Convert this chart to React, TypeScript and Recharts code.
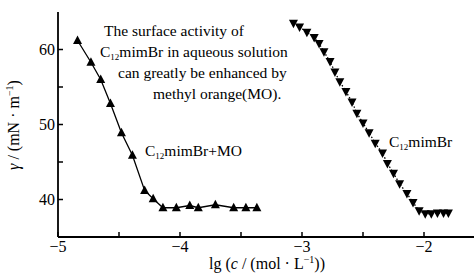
import { LineChart, Line, XAxis, YAxis } from 'recharts';

// C12mimBr + MO (filled up-triangles, solid line)
const moX = [-4.84, -4.73, -4.65, -4.57, -4.48, -4.39, -4.29, -4.22, -4.14, -4.03, -3.92, -3.85, -3.71, -3.56, -3.46, -3.37];
const moY = [61.2, 58.3, 56.0, 52.8, 48.9, 45.9, 41.2, 40.1, 38.9, 38.9, 39.2, 38.9, 39.3, 38.9, 38.9, 38.9];

// C12mimBr alone (filled down-triangles, dotted line)
const ilX = [-3.07, -3.02, -2.96, -2.9, -2.86, -2.82, -2.77, -2.73, -2.69, -2.64, -2.59, -2.55, -2.5, -2.45, -2.4, -2.34, -2.3, -2.25, -2.2, -2.14, -2.09, -2.04, -1.99, -1.94, -1.89, -1.84, -1.8];
const ilY = [63.5, 63.0, 62.3, 61.6, 60.8, 59.7, 58.4, 57.0, 55.7, 54.4, 53.0, 51.5, 50.2, 48.9, 47.5, 46.2, 44.8, 43.5, 42.1, 40.8, 39.6, 38.5, 38.1, 38.1, 38.2, 38.2, 38.2];

const xTicks = [-5, -4.5, -4, -3.5, -3, -2.5, -2, -1.5];
const yTicks = [35, 40, 45, 50, 55, 60, 65];
const xLabels = ['−5', '−4', '−3', '−2'];
const yLabels = ['40', '50', '60'];

const moData = moX.map((x, i) => ({ x, y: moY[i] }));
const ilData = ilX.map((x, i) => ({ x, y: ilY[i] }));

const FONT = "'Liberation Serif', 'DejaVu Serif', serif";
const txt = { fontFamily: FONT };

const UpTri = (p: any) => {
  const { cx, cy } = p;
  if (cx == null || cy == null) return <g key={p.index} />;
  return <polygon key={p.index} points={`${cx},${cy - 5} ${cx - 4.5},${cy + 3.5} ${cx + 4.5},${cy + 3.5}`} fill="#000" />;
};

const DownTri = (p: any) => {
  const { cx, cy } = p;
  if (cx == null || cy == null) return <g key={p.index} />;
  return <polygon key={p.index} points={`${cx},${cy + 5} ${cx - 4.5},${cy - 3.5} ${cx + 4.5},${cy - 3.5}`} fill="#000" />;
};

const XTick = (p: any) => {
  const { x, y, payload } = p;
  const v = payload.value;
  const i = [-5, -4, -3, -2].indexOf(v);
  return (
    <g>
      <line x1={x} y1={y} x2={x} y2={y - 5} stroke="#000" strokeWidth={1.5} />
      {i >= 0 && (
        <text x={x} y={y + 15} textAnchor="middle" fontSize={16} style={txt} fill="#000">
          {xLabels[i]}
        </text>
      )}
    </g>
  );
};

const YTick = (p: any) => {
  const { x, y, payload } = p;
  const v = payload.value;
  const idx = [40, 50, 60].indexOf(v);
  if (v === 35 || v === 65) return <g />;
  return (
    <g>
      <line x1={x} y1={y} x2={x + 5} y2={y} stroke="#000" strokeWidth={1.5} />
      {idx >= 0 && (
        <text x={x - 3} y={y + 5} textAnchor="end" fontSize={16} style={txt} fill="#000">
          {yLabels[idx]}
        </text>
      )}
    </g>
  );
};

export default function App() {
  return (
    <div style={{ position: 'absolute', left: 0, top: 0, width: 474, height: 273, overflow: 'hidden', background: '#fff' }}>
      <LineChart width={490} height={273} margin={{ top: 12, right: 5, left: 0, bottom: 0 }}>
        <XAxis
          xAxisId="top"
          orientation="top"
          type="number"
          dataKey="x"
          domain={[-5, -1.5]}
          height={0}
          tick={false}
          tickLine={false}
          axisLine={{ stroke: '#000', strokeWidth: 1.8 }}
        />
        <XAxis
          type="number"
          dataKey="x"
          domain={[-5, -1.5]}
          ticks={xTicks}
          interval={0}
          height={36}
          tickSize={0}
          tickMargin={0}
          tickLine={false}
          tick={<XTick />}
          axisLine={{ stroke: '#000', strokeWidth: 1.8 }}
        />
        <YAxis
          type="number"
          domain={[35, 65]}
          ticks={yTicks}
          interval={0}
          width={58}
          tickSize={0}
          tickMargin={0}
          tickLine={false}
          tick={<YTick />}
          axisLine={{ stroke: '#000', strokeWidth: 1.8 }}
        />
        <Line
          data={moData}
          dataKey="y"
          type="linear"
          stroke="#000"
          strokeWidth={1.3}
          dot={UpTri}
          activeDot={false}
          isAnimationActive={false}
        />
        <Line
          data={ilData}
          dataKey="y"
          type="linear"
          stroke="#000"
          strokeWidth={1.3}
          strokeDasharray="1.5 2"
          dot={DownTri}
          activeDot={false}
          isAnimationActive={false}
        />
      </LineChart>
      <svg width={474} height={273} style={{ position: 'absolute', left: 0, top: 0, pointerEvents: 'none' }}>
        <g style={txt} fill="#000" fontSize={15.5}>
          <text x={104} y={36}>The surface activity of</text>
          <text x={100} y={57}>
            C<tspan fontSize={9} dy={3}>12</tspan><tspan dy={-3}>mimBr in aqueous solution</tspan>
          </text>
          <text x={118} y={78}>can greatly be enhanced by</text>
          <text x={153} y={99}>methyl orange(MO).</text>
          <text x={145} y={156}>
            C<tspan fontSize={9} dy={3}>12</tspan><tspan dy={-3}>mimBr+MO</tspan>
          </text>
          <text x={389} y={147}>
            C<tspan fontSize={9} dy={3}>12</tspan><tspan dy={-3}>mimBr</tspan>
          </text>
        </g>
        <text x={267} y={269} textAnchor="middle" style={txt} fontSize={16} fill="#000">
          lg (<tspan fontStyle="italic">c</tspan> / (mol · L<tspan fontSize={10} dy={-6}>−1</tspan><tspan dy={6}>))</tspan>
        </text>
        <text
          transform="translate(19,125) rotate(-90)"
          textAnchor="middle"
          style={txt}
          fontSize={16}
          fill="#000"
        >
          <tspan fontStyle="italic">γ</tspan> / (mN · m<tspan fontSize={10} dy={-6}>−1</tspan><tspan dy={6}>)</tspan>
        </text>
      </svg>
    </div>
  );
}
